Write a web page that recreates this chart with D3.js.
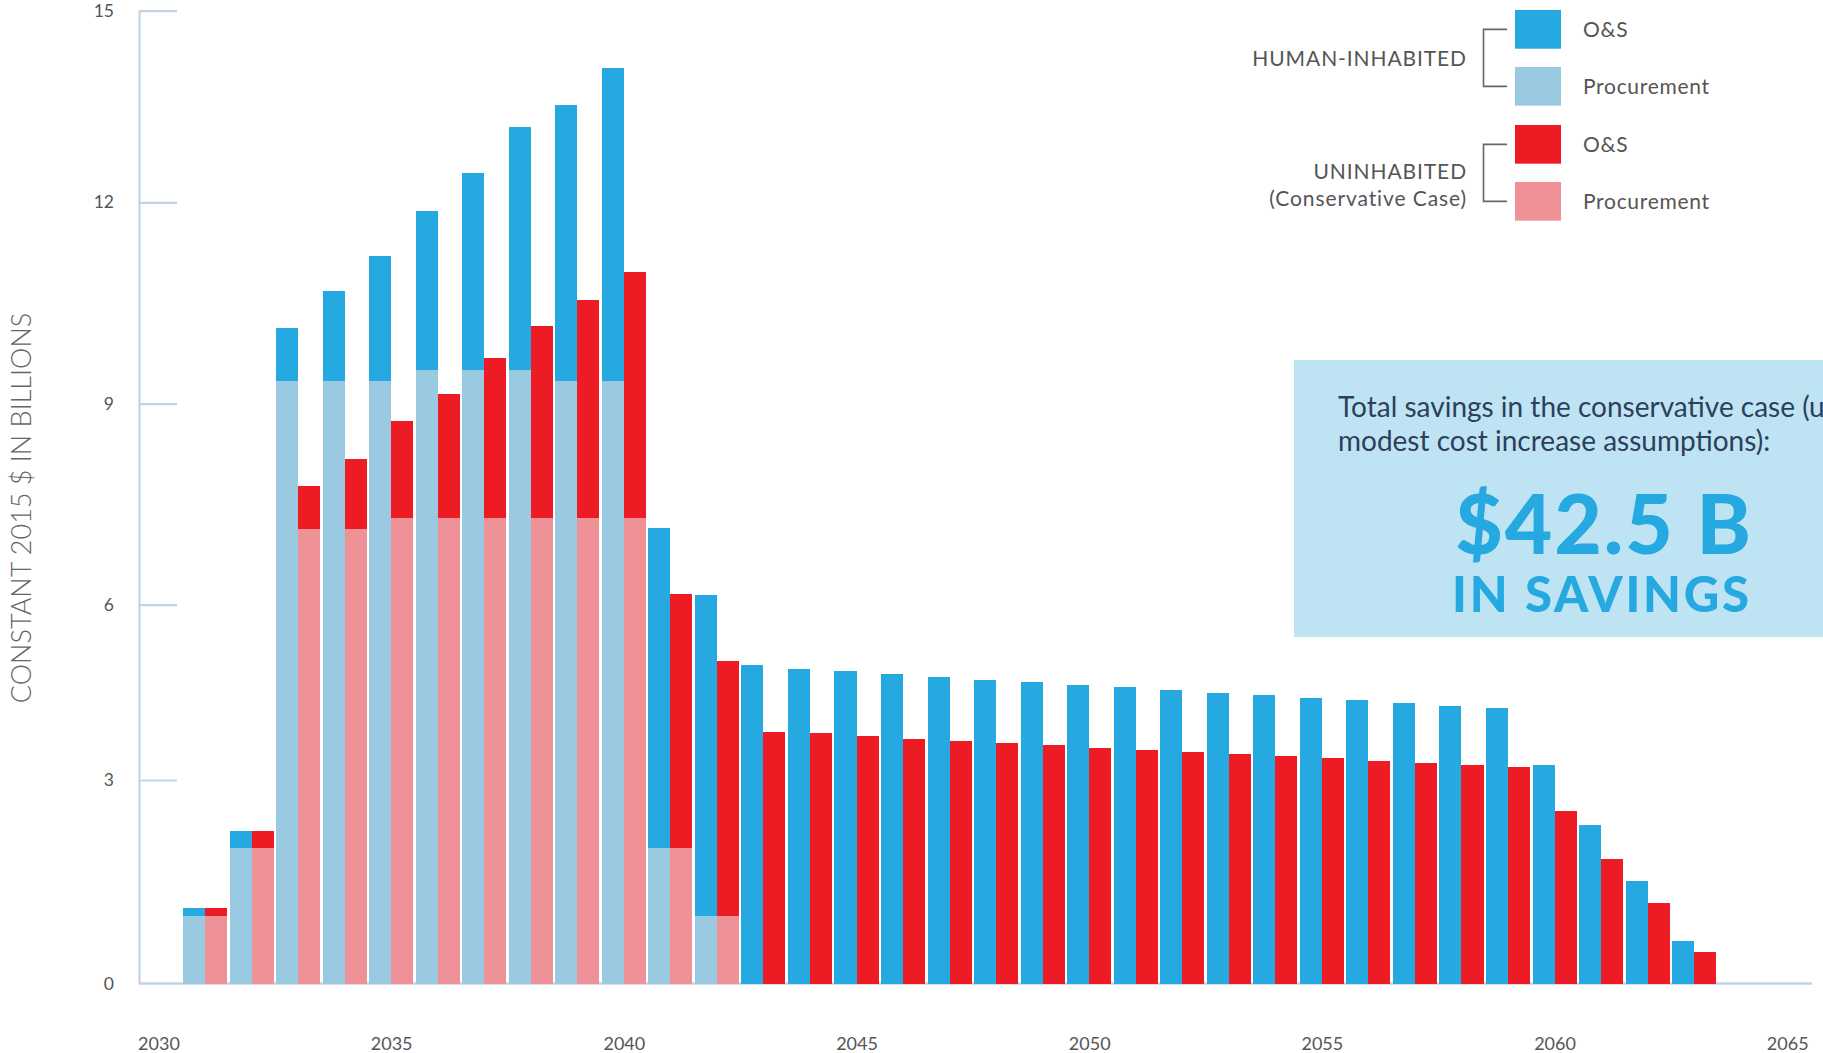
<!DOCTYPE html>
<html><head><meta charset="utf-8">
<script src="https://cdn.jsdelivr.net/npm/d3@7"></script>
<style>html,body{margin:0;padding:0;background:#fff;overflow:hidden}</style>
</head><body><svg id="c" width="1823" height="1053"></svg>
<script>
// ---------------- DATA ----------------
const years = [2031,2032,2033,2034,2035,2036,2037,2038,2039,2040,2041,2042,2043,2044,2045,2046,2047,
  2048,2049,2050,2051,2052,2053,2054,2055,2056,2057,2058,2059,2060,2061,2062,2063];
const humanProcurement = [1.0,2.0,9.34,9.34,9.34,9.5,9.5,9.5,9.34,9.34,2.0,1.0,0,0,0,0,0,
  0,0,0,0,0,0,0,0,0,0,0,0,0,0,0,0];
const humanOS = [0.11,0.25,0.79,1.34,1.86,2.37,2.96,3.68,4.18,4.76,5.14,5.14,4.97,4.90,4.87,4.81,4.76,
  4.71,4.68,4.63,4.59,4.54,4.49,4.45,4.40,4.37,4.32,4.27,4.23,3.26,2.33,1.51,0.62];
const unProcurement = [1.0,2.0,7.13,7.13,7.29,7.29,7.29,7.29,7.29,7.29,2.0,1.0,0,0,0,0,0,
  0,0,0,0,0,0,0,0,0,0,0,0,0,0,0,0];
const unOS = [0.11,0.25,0.64,1.04,1.45,1.85,2.39,2.87,3.25,3.67,4.16,4.04,3.82,3.80,3.75,3.70,3.67,
  3.63,3.60,3.55,3.51,3.48,3.44,3.41,3.38,3.33,3.29,3.26,3.22,2.54,1.83,1.18,0.47];
const yTickValues = [0,3,6,9,12,15];
const xTickValues = [2030,2035,2040,2045,2050,2055,2060,2065];
const groups = ["human","unmanned"];
const legendGroups = [
  {name:["HUMAN-INHABITED"], items:[{label:"O&S",key:"human-os"},{label:"Procurement",key:"human-proc"}]},
  {name:["UNINHABITED","(Conservative Case)"], items:[{label:"O&S",key:"un-os"},{label:"Procurement",key:"un-proc"}]}
];
const yTitle = "CONSTANT 2015 $ IN BILLIONS";
const boxText = ["Total savings in the conservative case (using","modest cost increase assumptions):"];
const bigValue = "$42.5 B";
const bigSub = "IN SAVINGS";

// ---------------- STYLE / LAYOUT ----------------
const colors = {"human-os":"#25A9E0","human-proc":"#9ACAE1","un-os":"#ED1C24","un-proc":"#EE9297"};
const axisColor = "#C3D3E4";
const font = "Lato, 'Noto Sans', sans-serif";

const svg = d3.select("#c");

// y axis in the original has irregular tick spacing -> piecewise-linear scale
const y = d3.scaleLinear().domain(yTickValues).range([983.5,780,604.7,403.7,202.3,10.7]);

const x = d3.scaleBand().domain(years).range([183, 183 + 33*46.46]).paddingInner(0.053).paddingOuter(0);
const xSub = d3.scaleBand().domain(groups).range([0, x.bandwidth()]).padding(0);
const xLabel = d3.scaleLinear().domain([years[0], years[years.length-1]])
  .range([x(years[0]) + x.bandwidth()/2, x(years[years.length-1]) + x.bandwidth()/2]);

// baseline
svg.append("line").attr("x1",139).attr("x2",1812).attr("y1",y(0)).attr("y2",y(0))
  .attr("stroke",axisColor).attr("stroke-width",2.5);

// y axis
const yAxis = svg.append("g").attr("transform","translate(139,0)")
  .call(d3.axisLeft(y).tickValues(yTickValues).tickSize(-38).tickSizeOuter(0).tickPadding(25));
yAxis.select(".domain").attr("stroke",axisColor).attr("stroke-width",2.2);
yAxis.selectAll(".tick line").attr("stroke",axisColor).attr("stroke-width",2.2);
yAxis.selectAll(".tick text").attr("fill","#555").attr("font-family",font).attr("font-size",17.5);
yAxis.selectAll(".tick").filter(d=>d===0).select("line").remove();

// x axis labels
const xAxis = svg.append("g").attr("transform","translate(0,1037)")
  .call(d3.axisBottom(xLabel).tickValues(xTickValues).tickFormat(d3.format("d")).tickSize(0).tickPadding(0));
xAxis.select(".domain").remove();
xAxis.selectAll(".tick text").attr("fill","#555").attr("font-family",font).attr("font-size",18);

// bars
const data = years.map((yr,i)=>({year:yr,
  human:[{key:"human-proc",y0:0,y1:humanProcurement[i]},{key:"human-os",y0:humanProcurement[i],y1:humanProcurement[i]+humanOS[i]}],
  unmanned:[{key:"un-proc",y0:0,y1:unProcurement[i]},{key:"un-os",y0:unProcurement[i],y1:unProcurement[i]+unOS[i]}]
}));
const yearG = svg.append("g").selectAll("g").data(data).join("g")
  .attr("transform",d=>`translate(${x(d.year)},0)`);
groups.forEach(gname=>{
  yearG.selectAll("rect."+gname).data(d=>d[gname].filter(s=>s.y1>s.y0)).join("rect")
    .attr("class",gname)
    .attr("x",xSub(gname)).attr("width",xSub.bandwidth())
    .attr("y",s=>y(s.y1)).attr("height",s=>y(s.y0)-y(s.y1))
    .attr("fill",s=>colors[s.key]).attr("shape-rendering","crispEdges");
});

// y title
svg.append("text").attr("transform","translate(31,508) rotate(-90)")
  .attr("text-anchor","middle").attr("font-family",font).attr("font-weight",300)
  .attr("font-size",27).attr("fill","#666").text(yTitle);

// legend
const swY = [10,67,125,182];
const swH = 38.7;
let k = 0;
legendGroups.forEach((g,gi)=>{
  const yTop = swY[gi*2] + swH/2, yBot = swY[gi*2+1] + swH/2;
  svg.append("path").attr("d",`M1507,${yTop}H1483.5V${yBot}H1507`)
    .attr("fill","none").attr("stroke","#666").attr("stroke-width",1.6);
  g.items.forEach(it=>{
    const yy = swY[k++];
    svg.append("text").attr("x",1583).attr("y",yy+swH/2+7.5).attr("font-family",font)
      .attr("font-size",21).attr("letter-spacing",0.7).attr("fill","#555").text(it.label);
    svg.append("rect").attr("x",1515).attr("y",yy).attr("width",46).attr("height",swH).attr("fill",colors[it.key]);
  });
  const nameBase = gi===0 ? [66] : [179,206];
  g.name.forEach((t,ti)=>{
    svg.append("text").attr("x",1467).attr("y",nameBase[ti]).attr("text-anchor","end")
      .attr("font-family",font).attr("font-size",21).attr("letter-spacing",0.9).attr("fill","#555").text(t);
  });
});

// info box
svg.append("rect").attr("x",1294).attr("y",360).attr("width",560).attr("height",277).attr("fill","#BEE4F4");
boxText.forEach((t,i)=>{
  svg.append("text").attr("x",1338).attr("y",417+i*34).attr("font-family",font)
    .attr("font-size",28).attr("fill","#2E3E5C").text(t);
});
svg.append("text").attr("x",1604).attr("y",554).attr("text-anchor","middle").attr("font-family",font)
  .attr("font-weight",900).attr("font-size",82).attr("letter-spacing",2).attr("fill","#25A9E0").text(bigValue);
svg.append("text").attr("x",1602).attr("y",612).attr("text-anchor","middle").attr("font-family",font)
  .attr("font-weight",900).attr("font-size",49).attr("letter-spacing",2.8).attr("fill","#25A9E0").text(bigSub);
</script></body></html>
